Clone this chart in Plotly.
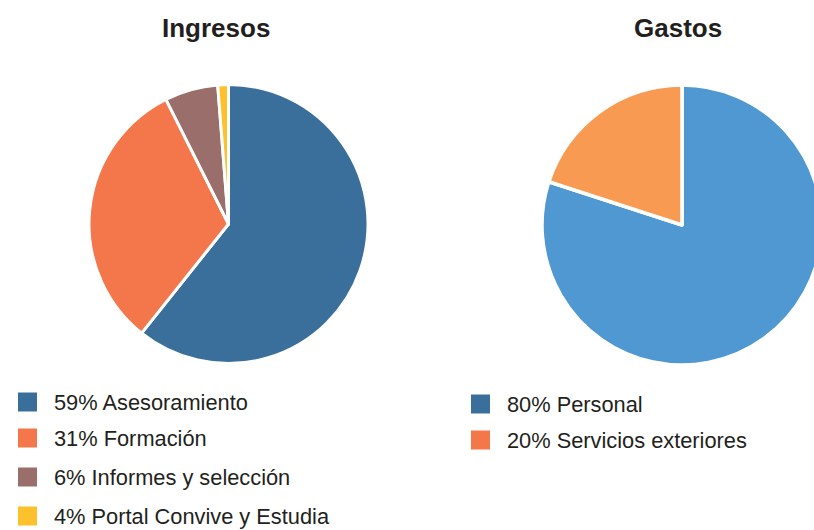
import plotly.graph_objects as go

# ---- data ----
ingresos_labels = ["59% Asesoramiento", "31% Formación", "6% Informes y selección", "4% Portal Convive y Estudia"]
ingresos_values = [59, 31, 6, 1.2]
ingresos_colors = ["#3a6f9c", "#f4774b", "#9a6e6b", "#fcc12c"]

gastos_labels = ["80% Personal", "20% Servicios exteriores"]
gastos_values = [80, 20]
gastos_colors = ["#5098d2", "#f89a52"]
gastos_legend_colors = ["#3a6f9c", "#f4774b"]

titles = ["Ingresos", "Gastos"]

W, H = 840, 530
FONT = "Liberation Sans, Arial, sans-serif"


def px(x):
    return x / W


def py(y):
    return 1 - y / H


fig = go.Figure()

fig.add_trace(go.Pie(
    labels=ingresos_labels, values=ingresos_values, sort=False,
    direction="clockwise", rotation=0, textinfo="none", hoverinfo="label",
    marker=dict(colors=ingresos_colors, line=dict(color="white", width=3)),
    domain=dict(x=[px(89), px(368)], y=[py(363.5), py(84.5)]),
    showlegend=False,
))

fig.add_trace(go.Pie(
    labels=gastos_labels, values=gastos_values, sort=False,
    direction="clockwise", rotation=0, textinfo="none", hoverinfo="label",
    marker=dict(colors=gastos_colors, line=dict(color="white", width=3.5)),
    domain=dict(x=[px(542), px(822)], y=[py(365), py(85)]),
    showlegend=False,
))

shapes = []
annotations = []

# titles
for t, cx in zip(titles, [216, 678]):
    annotations.append(dict(
        text="<b>%s</b>" % t, x=px(cx), y=py(28), xref="paper", yref="paper",
        xanchor="center", yanchor="middle", showarrow=False,
        font=dict(family=FONT, size=26, color="#231f20"),
    ))


def add_legend(labels, colors, sq_x, txt_x, rows):
    for lab, col, cy in zip(labels, colors, rows):
        shapes.append(dict(
            type="rect", xref="paper", yref="paper",
            x0=px(sq_x), x1=px(sq_x + 19), y0=py(cy + 9.5), y1=py(cy - 9.5),
            fillcolor=col, line=dict(width=0),
        ))
        annotations.append(dict(
            text=lab, x=px(txt_x), y=py(cy), xref="paper", yref="paper",
            xanchor="left", yanchor="middle", showarrow=False,
            font=dict(family=FONT, size=21.8, color="#231f20"),
        ))


add_legend(ingresos_labels, ingresos_colors, 18, 52, [402, 438, 477, 516])
add_legend(gastos_labels, gastos_legend_colors, 471, 505, [404, 440])

fig.update_layout(
    width=W, height=H, autosize=False,
    margin=dict(l=0, r=0, t=0, b=0),
    paper_bgcolor="white", plot_bgcolor="white",
    shapes=shapes, annotations=annotations,
)

fig.write_html(
    "out.html",
    config={"displayModeBar": False},
    post_script="document.body.style.margin='0';document.body.style.overflow='hidden';document.documentElement.style.overflow='hidden';",
)
